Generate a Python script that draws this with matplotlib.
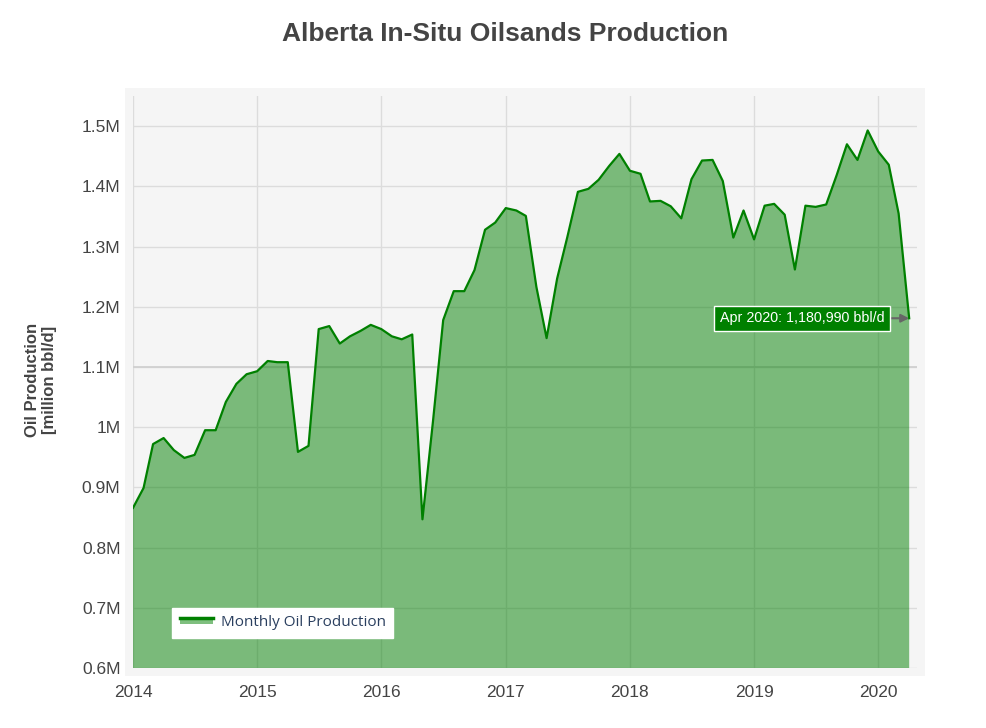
import matplotlib
matplotlib.use("Agg")
import matplotlib.pyplot as plt
from matplotlib.patches import Rectangle
from matplotlib.lines import Line2D
from matplotlib.legend_handler import HandlerBase
import pandas as pd

# ---- data (million bbl/d), monthly Jan 2014 .. Apr 2020 ----
months = pd.date_range("2014-01-01", "2020-04-01", freq="MS")
production = [
    0.866, 0.899, 0.972, 0.982, 0.962, 0.949, 0.954, 0.995, 0.995, 1.042,
    1.072, 1.088, 1.093, 1.110, 1.108, 1.108, 0.959, 0.969, 1.163, 1.168,
    1.139, 1.151, 1.160, 1.170, 1.163, 1.151, 1.146, 1.154, 0.847, 1.010,
    1.178, 1.226, 1.226, 1.261, 1.328, 1.340, 1.364, 1.360, 1.351, 1.233,
    1.148, 1.247, 1.316, 1.391, 1.396, 1.411, 1.434, 1.454, 1.426, 1.421,
    1.375, 1.376, 1.367, 1.347, 1.412, 1.443, 1.444, 1.409, 1.315, 1.360,
    1.312, 1.368, 1.371, 1.353, 1.262, 1.368, 1.366, 1.370, 1.419, 1.470,
    1.444, 1.493, 1.458, 1.436, 1.355, 1.18099,
]
y_ticks = [0.6, 0.7, 0.8, 0.9, 1.0, 1.1, 1.2, 1.3, 1.4, 1.5]
y_tick_labels = ["0.6M", "0.7M", "0.8M", "0.9M", "1M", "1.1M", "1.2M", "1.3M", "1.4M", "1.5M"]
x_tick_years = [2014, 2015, 2016, 2017, 2018, 2019, 2020]
annotation_text = "Apr 2020: 1,180,990 bbl/d"
series_name = "Monthly Oil Production"
title = "Alberta In-Situ Oilsands Production"
y_label = "Oil Production\n[million bbl/d]"

W, H = 986, 728
fig = plt.figure(figsize=(W / 100, H / 100), dpi=100)
fig.patch.set_facecolor("white")

# plot-area background (slightly larger than axes, plotly style)
fig.add_artist(Rectangle((125 / W, (H - 676) / H), 800 / W, 588 / H,
                         transform=fig.transFigure, facecolor="#f5f5f5",
                         edgecolor="none", zorder=0))

ax = fig.add_axes([133 / W, (H - 668) / H, 784 / W, 572 / H])
ax.set_facecolor("#f5f5f5")
for s in ax.spines.values():
    s.set_visible(False)

green = "#008000"
ax.fill_between(months, production, 0, color=green, alpha=0.5, linewidth=0, zorder=2)
ax.plot(months, production, color=green, linewidth=1.6, zorder=3)

ax.set_ylim(0.6, 1.5502)
ax.set_xlim(pd.Timestamp("2014-01-01"), pd.Timestamp("2020-04-24"))

ax.set_yticks(y_ticks)
ax.set_yticklabels(y_tick_labels)
ax.set_xticks([pd.Timestamp(f"{y}-01-01") for y in x_tick_years])
ax.set_xticklabels([str(y) for y in x_tick_years])

ax.set_axisbelow(True)
ax.grid(True, color="#dcdcdc", linewidth=1.0)
ax.axhline(1.1, color="#d0d0d0", linewidth=1.3, zorder=1)
ax.tick_params(axis="both", length=0, labelsize=12.5, labelcolor="#444444",
               labelfontfamily="Liberation Sans")
ax.tick_params(axis="y", pad=9)
ax.tick_params(axis="x", pad=12)

fig.text(505 / W, 1 - 34 / H, title, ha="center", va="center",
         fontsize=19, fontweight="bold", color="#444444", family="Liberation Sans")

fig.text(41 / W, 1 - 380 / H, y_label, rotation=90, ha="center", va="center",
         fontsize=12, fontweight="bold", color="#444444", family="Liberation Sans",
         multialignment="center", linespacing=1.15)

# annotation
ax.annotate(annotation_text, xy=(months[-1], production[-1]),
            xytext=(-18, 0), textcoords="offset points",
            ha="right", va="center", fontsize=10.3, color="white",
            family="Liberation Sans",
            bbox=dict(boxstyle="square,pad=0.38", facecolor=green,
                      edgecolor="white", linewidth=1),
            arrowprops=dict(arrowstyle="-|>", color="#666666", lw=1.5,
                            mutation_scale=12, shrinkA=0, shrinkB=0),
            zorder=5)


# legend handle: filled band with the line along its top edge (plotly style)
class AreaLineHandler(HandlerBase):
    def create_artists(self, legend, orig_handle, xdescent, ydescent,
                       width, height, fontsize, trans):
        top = height * 0.75
        band = Rectangle((-xdescent, -ydescent + height * 0.2), width, top - height * 0.2,
                         facecolor=green, alpha=0.5, edgecolor="none", transform=trans)
        line = Line2D([-xdescent, -xdescent + width], [top - ydescent, top - ydescent],
                      color=green, linewidth=2.5, transform=trans)
        return [band, line]


h_line = Line2D([0], [0], color=green, linewidth=2.5)
leg = ax.legend([h_line], [series_name],
                handler_map={Line2D: AreaLineHandler()},
                loc="lower left", bbox_to_anchor=(0.0497, 0.0524),
                borderaxespad=0, fancybox=False, framealpha=1,
                facecolor="white", edgecolor="white",
                prop={"family": "Open Sans", "size": 11},
                handlelength=2.2, handleheight=0.7, handletextpad=0.5,
                borderpad=0.5)
for t in leg.get_texts():
    t.set_color("#2a3f5f")

fig.savefig("out.png", dpi=100)
